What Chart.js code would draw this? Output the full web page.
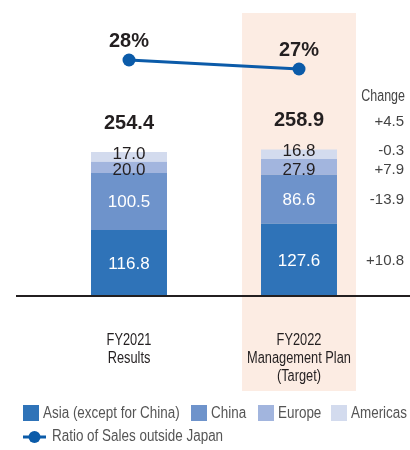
<!DOCTYPE html>
<html>
<head>
<meta charset="utf-8">
<script src="https://cdn.jsdelivr.net/npm/chart.js@4/dist/chart.umd.min.js"></script>
<style>
  html, body { margin: 0; padding: 0; background: #fff; }
  #wrap { width: 410px; height: 450px; }
</style>
</head>
<body>
<div id="wrap"><canvas id="chart" width="410" height="450"></canvas></div>
<script>
// Datos del gráfico
const categories = [['FY2021', 'Results'], ['FY2022', 'Management Plan', '(Target)']];
const asia = [116.8, 127.6];
const china = [100.5, 86.6];
const europe = [20.0, 27.9];
const americas = [17.0, 16.8];
const totals = [254.4, 258.9];
const ratio = [28, 27];
// total, Americas, Europe, China, Asia
const changes = ['+4.5', '-0.3', '+7.9', '-13.9', '+10.8'];
const seriesNames = ['Asia (except for China)', 'China', 'Europe', 'Americas'];
const lineName = 'Ratio of Sales outside Japan';

const colors = ['#2f73b8', '#6e93cb', '#a2b5de', '#d3dbee'];
const lineColor = '#0b5ba9';
const bandColor = '#fcece3';
const SANS = "'Liberation Sans', Arial, Helvetica, sans-serif";

// Texto condensado: Liberation Sans comprimido en horizontal
function narrowText(ctx, text, x, y, size, squeeze) {
  ctx.save();
  ctx.font = size + 'px ' + SANS;
  ctx.translate(x, y);
  ctx.scale(squeeze, 1);
  ctx.fillText(text, 0, 0);
  ctx.restore();
}

// Plugin para banda, etiquetas y leyenda
const decorPlugin = {
  id: 'decor',
  beforeDatasetsDraw(chart) {
    const ctx = chart.ctx;
    const x = chart.scales.x;
    const w = (x.right - x.left) / categories.length;
    const cx = x.getPixelForValue(1);
    ctx.save();
    ctx.fillStyle = bandColor;
    ctx.fillRect(cx - w * 0.335, chart.chartArea.top, w * 0.67, 378);
    ctx.restore();
  },
  afterDatasetsDraw(chart) {
    const ctx = chart.ctx;
    const area = chart.chartArea;
    ctx.save();

    // eje base
    ctx.strokeStyle = '#231f20';
    ctx.lineWidth = 2;
    ctx.beginPath();
    ctx.moveTo(16, area.bottom);
    ctx.lineTo(410, area.bottom);
    ctx.stroke();

    ctx.textAlign = 'center';
    ctx.textBaseline = 'middle';

    // valores dentro de las barras
    const offsets = [0, 0, 2, -4];
    const segLabelY = [];
    for (let d = 0; d < 4; d++) {
      const meta = chart.getDatasetMeta(d);
      const vals = [asia, china, europe, americas][d];
      meta.data.forEach((bar, i) => {
        const y = (bar.y + bar.base) / 2 + offsets[d];
        ctx.fillStyle = d < 2 ? '#ffffff' : '#231f20';
        ctx.font = '17px ' + SANS;
        ctx.fillText(vals[i].toFixed(1), bar.x, y + 1);
        if (i === 1) segLabelY[d] = y;
      });
    }

    // totales
    const topMeta = chart.getDatasetMeta(3);
    ctx.fillStyle = '#231f20';
    ctx.font = 'bold 20px ' + SANS;
    topMeta.data.forEach((bar, i) => {
      ctx.fillText(totals[i].toFixed(1), bar.x, bar.y - 29);
    });

    // porcentajes
    const lineMeta = chart.getDatasetMeta(4);
    lineMeta.data.forEach((pt, i) => {
      ctx.fillText(ratio[i] + '%', pt.x, pt.y - 19);
    });

    // columna de cambios
    ctx.textAlign = 'right';
    ctx.fillStyle = '#444';
    narrowText(ctx, 'Change', 405, 97, 16, 0.78);
    ctx.font = '15px ' + SANS;
    const changeY = [topMeta.data[1].y - 29, segLabelY[3], segLabelY[2], segLabelY[1], segLabelY[0]];
    changes.forEach((c, i) => ctx.fillText(c, 404, changeY[i] + 1));

    // categorías
    ctx.textAlign = 'center';
    ctx.fillStyle = '#231f20';
    categories.forEach((lines, i) => {
      const cx = chart.scales.x.getPixelForValue(i);
      lines.forEach((t, k) => narrowText(ctx, t, cx, 341 + k * 18, 16, 0.8));
    });
    ctx.restore();
  },
  afterDraw(chart) {
    const ctx = chart.ctx;
    ctx.save();
    ctx.textBaseline = 'middle';
    ctx.textAlign = 'left';
    const boxX = [23, 191, 258, 331];
    seriesNames.forEach((name, i) => {
      ctx.fillStyle = colors[i];
      ctx.fillRect(boxX[i], 405, 16, 16);
      ctx.fillStyle = '#555';
      narrowText(ctx, name, boxX[i] + 20, 414, 16, 0.84);
    });
    ctx.strokeStyle = lineColor;
    ctx.lineWidth = 3;
    ctx.beginPath();
    ctx.moveTo(23, 437);
    ctx.lineTo(46, 437);
    ctx.stroke();
    ctx.fillStyle = lineColor;
    ctx.beginPath();
    ctx.arc(34.5, 437, 6, 0, Math.PI * 2);
    ctx.fill();
    ctx.fillStyle = '#555';
    narrowText(ctx, lineName, 52, 437, 16, 0.84);
    ctx.restore();
  }
};

const barSets = [asia, china, europe, americas].map((data, i) => ({
  type: 'bar',
  label: seriesNames[i],
  data: data,
  backgroundColor: colors[i],
  borderWidth: 0,
  stack: 's',
  yAxisID: 'y',
  order: 2,
  categoryPercentage: 1,
  barPercentage: 0.447
}));

new Chart(document.getElementById('chart'), {
  data: {
    labels: categories.map(c => c.join(' ')),
    datasets: [...barSets, {
      type: 'line',
      label: lineName,
      data: ratio,
      borderColor: lineColor,
      backgroundColor: lineColor,
      borderWidth: 3,
      pointRadius: 6.5,
      pointHoverRadius: 6.5,
      pointBorderWidth: 0,
      yAxisID: 'y2',
      order: 0
    }]
  },
  options: {
    responsive: false,
    animation: false,
    events: [],
    layout: { padding: { left: 44, right: 26, top: 13, bottom: 154 } },
    plugins: { legend: { display: false }, tooltip: { enabled: false } },
    scales: {
      x: { display: false, stacked: true, offset: true },
      y: { display: false, stacked: true, min: 0, max: 500 },
      y2: { display: false, min: 1.78, max: 33.22 }
    }
  },
  plugins: [decorPlugin]
});
</script>
</body>
</html>
